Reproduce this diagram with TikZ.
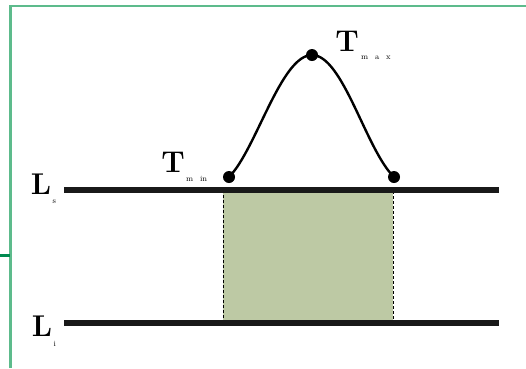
\documentclass[tikz,border=0pt]{standalone}
\usepackage{xcolor}
\usepackage{tikz}
\usetikzlibrary{positioning}

\definecolor{frameGreen}{HTML}{5DBB8C}
\definecolor{tickGreen}{HTML}{008A50}
\definecolor{bandFill}{HTML}{BDC9A4}

\tikzset{
  level/.style={line width=5.5pt, black!90},
  dot/.style={circle, fill=black, inner sep=0pt, minimum size=12pt},
  big/.style={font=\fontsize{30}{30}\selectfont\bfseries, inner sep=0pt},
  tiny/.style={font=\fontsize{8}{8}\selectfont, inner sep=0pt},
  edgeline/.style={densely dashed, line width=0.9pt}
}

\begin{document}
\begin{tikzpicture}[x=1pt, y=-1pt]
        \useasboundingbox (0,0) rectangle (526,368);
%	frame
        \draw[frameGreen, line width=2.8pt] (10.5,368) -- (10.5,6) -- (527,6);
        \draw[tickGreen, line width=3pt] (0,255) -- (10,255);
%	band between the two levels
        \fill[bandFill] (223,190) rectangle (393,323);
        \draw[edgeline] (223,323) -- (223,187) -- (393,187) -- (393,323);
%	levels
        \coordinate (LsA) at (64,190);
        \coordinate (LsB) at (499,190);
        \coordinate (LiA) at (64,323);
        \coordinate (LiB) at (499,323);
        \draw[level] (LsA) -- (LsB);
        \draw[level] (LiA) -- (LiB);
%	curve
        \node[dot] (Tmin) at (229,177) {};
        \node[dot] (Tmax) at (312,55) {};
        \node[dot] (Tend) at (394,177) {};
        \draw[line width=2.4pt]
        (Tmin.center) .. controls (256,150) and (281,55) .. (Tmax.center)
                      .. controls (343,55) and (366,150) .. (Tend.center);
%	labels
        \node[big] (TminT) at (173,162) {T};
        \node[tiny, below right=4pt and 1pt of TminT] (TminS) {m\,\,\, in};
        \node[big] (TmaxT) at (347,41) {T};
        \node[tiny, below right=4pt and 2pt of TmaxT] (TmaxS) {m\,\,\, a\,\,\, x};
        \node[big] (LsL) at (41,184) {L};
        \node[tiny, below right=5pt and 1pt of LsL] (LsS) {s};
        \node[big] (LiL) at (42,326) {L};
        \node[tiny, below right=5pt and 1pt of LiL] (LiS) {i};
\end{tikzpicture}
\end{document}
